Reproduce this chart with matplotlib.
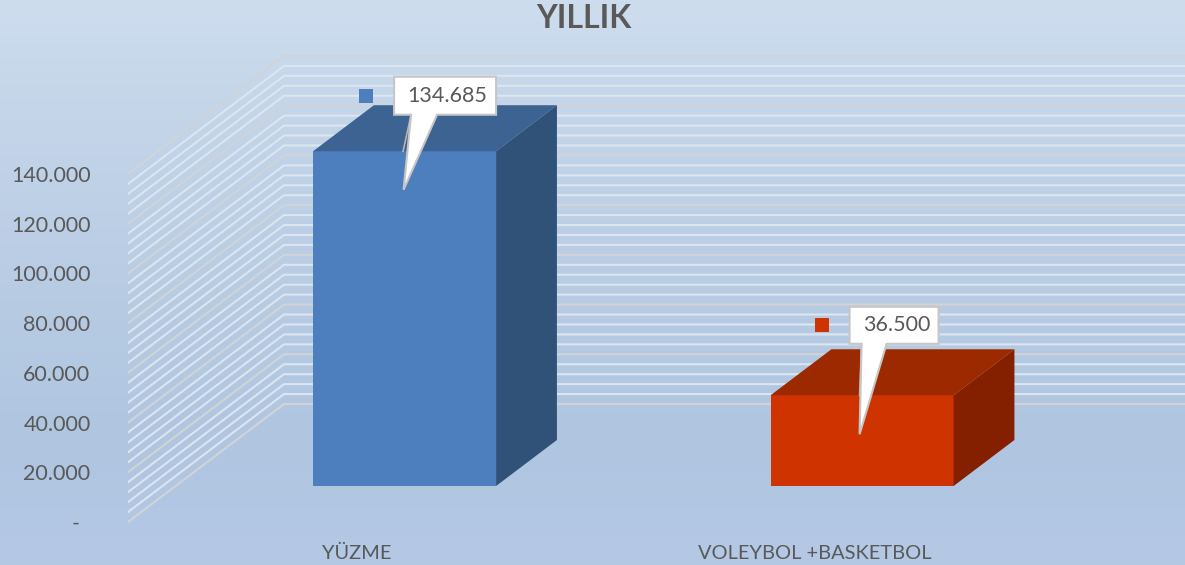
# yillik 3d bar chart
import numpy as np
import matplotlib
matplotlib.use('Agg')
import matplotlib.pyplot as plt
from matplotlib.patches import Polygon

plt.rcParams['font.family'] = ['Lato', 'DejaVu Sans']

title = 'YILLIK'
categories = ['YÜZME', 'VOLEYBOL +BASKETBOL']
values = [134685, 36500]
value_labels = ['134.685', '36.500']
y_ticks = [0, 20000, 40000, 60000, 80000, 100000, 120000, 140000]
y_tick_labels = ['-  ', '20.000', '40.000', '60.000', '80.000', '100.000', '120.000', '140.000']

front_colors = ['#4d7ebd', '#cf3300']
top_colors = ['#3c6391', '#9c2900']
side_colors = ['#305279', '#842000']

W, H = 1185, 565
TEXT = '#595959'

# pixel scale of the axes
PX_CAT = 457.5            # px per category
PX_VAL = 348 / 140000     # px per value
CAT0_X = 357              # px of the first category
ZERO_Y = 522              # px of value 0 on the front edge
AX_LEFT, AX_TOP, AX_BOTTOM = 128, 30, 534

fig = plt.figure(figsize=(W / 100, H / 100), dpi=100)

# background gradient
stops_y = [0, 100, 300, 450, 565]
stops_rgb = np.array([[206, 221, 238], [197, 214, 234], [183, 203, 227], [175, 197, 224], [181, 201, 229]])
bg = np.zeros((H, W, 3))
for i in range(3):
    bg[:, :, i] = np.interp(np.arange(H), stops_y, stops_rgb[:, i])[:, None]
fig.figimage(bg / 255, 0, 0, origin='upper', zorder=-5)

ax = fig.add_axes([AX_LEFT / W, 1 - AX_BOTTOM / H, (W - AX_LEFT) / W, (AX_BOTTOM - AX_TOP) / H])
ax.patch.set_visible(False)
ax.set_xlim((AX_LEFT - CAT0_X) / PX_CAT, (W - CAT0_X) / PX_CAT)
ax.set_ylim((ZERO_Y - AX_BOTTOM) / PX_VAL, (ZERO_Y - AX_TOP) / PX_VAL)
for s in ax.spines.values():
    s.set_visible(False)

# depth of the wall, in data units
DX = 156 / PX_CAT
DY = 118 / PX_VAL
x_left = ax.get_xlim()[0]
x_right = ax.get_xlim()[1]

# gridlines: side wall then back wall
for v in np.arange(0, 140001, 4000):
    major = v % 20000 == 0
    ax.plot([x_left, x_left + DX, x_right], [v, v + DY, v + DY],
            color='#d0d3d7' if major else '#dce5f0', lw=1.6 if major else 1.5,
            zorder=1, solid_joinstyle='miter')

# bars
BAR_W = 0.4
D0, D1 = 0.305, 0.695
# callout layout in px around the bar center / bar top
callouts = [
    dict(bl=-10.5, br=91.5, bt=-74.5, bb=-36.5, tip=(-1, 38.5), p1=6.5, p2=32.5, lead=(-1.5, 0), mk=-45.5, mt=12, tx=43),
    dict(bl=-12.5, br=76.5, bt=-88.5, bb=-51.5, tip=(-2.5, 39), p1=-0.5, p2=24.5, lead=(-2.5, 0), mk=-47.5, mt=11, tx=35),
]
for i, v in enumerate(values):
    xa = i - BAR_W / 2 + D0 * DX
    xb = i + BAR_W / 2 + D0 * DX
    y0 = D0 * DY
    ddx = (D1 - D0) * DX
    ddy = (D1 - D0) * DY
    ax.add_patch(Polygon([(xa, y0), (xb, y0), (xb, y0 + v), (xa, y0 + v)], fc=front_colors[i], ec='none', zorder=3))
    ax.add_patch(Polygon([(xa, y0 + v), (xb, y0 + v), (xb + ddx, y0 + v + ddy), (xa + ddx, y0 + v + ddy)],
                         fc=top_colors[i], ec='none', zorder=3))
    ax.add_patch(Polygon([(xb, y0), (xb + ddx, y0 + ddy), (xb + ddx, y0 + v + ddy), (xb, y0 + v)],
                         fc=side_colors[i], ec='none', zorder=3))

    cx = i + D0 * DX
    top = y0 + v
    def pt(px, py):
        return (cx + px / PX_CAT, top - py / PX_VAL)
    c = callouts[i]
    # leader line behind the callout
    lx, ly = zip(pt(c['p1'], c['bb']), pt(*c['lead']))
    ax.plot(lx, ly, color='#b4b4b4', lw=1.2, zorder=4)
    ax.add_patch(Polygon([pt(c['bl'], c['bt']), pt(c['br'], c['bt']), pt(c['br'], c['bb']), pt(c['p2'], c['bb']),
                          pt(*c['tip']), pt(c['p1'], c['bb']), pt(c['bl'], c['bb'])],
                         fc='white', ec='#c6c6c6', lw=1.5, zorder=5, joinstyle='miter'))
    ax.text(*pt(c['tx'], (c['bt'] + c['bb']) / 2), value_labels[i], ha='center', va='center', color=TEXT,
            fontsize=15.5, zorder=6)
    # legend key square
    mk, mt = c['mk'], c['bt'] + c['mt']
    ax.add_patch(Polygon([pt(mk, mt), pt(mk + 14, mt), pt(mk + 14, mt + 14), pt(mk, mt + 14)],
                         fc=front_colors[i], ec='none', zorder=4))

ax.set_yticks(y_ticks)
ax.set_yticklabels(y_tick_labels)
ax.set_xticks(range(len(categories)))
ax.set_xticklabels(categories)
ax.tick_params(axis='y', length=0, pad=27, labelsize=15.5, labelcolor=TEXT)
ax.tick_params(axis='x', length=0, pad=8, labelsize=14.4, labelcolor=TEXT)

fig.text(584 / W, 1 - 28 / H, title, ha='center', va='baseline', fontsize=23, fontweight='bold', color=TEXT)

plt.savefig('out.png', dpi=100)
